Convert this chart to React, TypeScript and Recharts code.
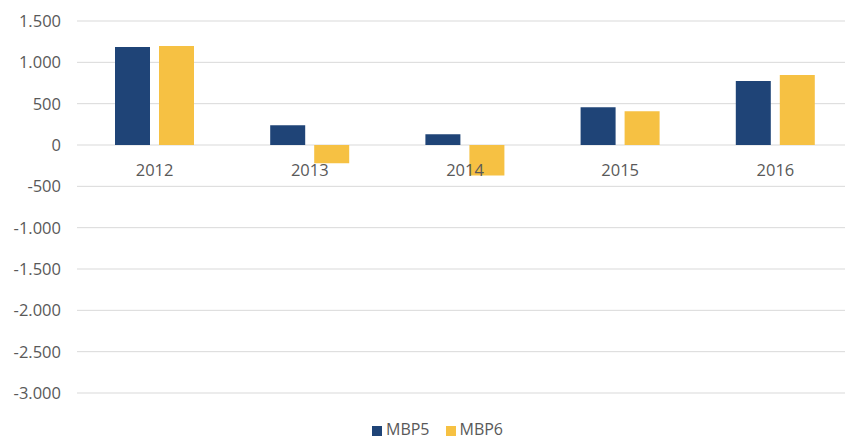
import React from 'react';
import { BarChart, Bar, XAxis, YAxis, CartesianGrid, Legend, ReferenceDot } from 'recharts';

const categories = ['2012', '2013', '2014', '2015', '2016'];
const mbp5 = [1185, 240, 130, 457, 773];
const mbp6 = [1198, -222, -368, 409, 846];
const yTicks = [-3000, -2500, -2000, -1500, -1000, -500, 0, 500, 1000, 1500];

const data = categories.map((c, i) => ({ year: c, MBP5: mbp5[i], MBP6: mbp6[i] }));

const fmt = (v: number) => {
  const s = Math.abs(v).toString().replace(/\B(?=(\d{3})+(?!\d))/g, '.');
  return (v < 0 ? '-' : '') + s;
};

const FONT = '"Open Sans", "Noto Sans", sans-serif';

export default function App() {
  return (
    <div style={{ position: 'absolute', left: 0, top: 0, width: 845, height: 439, overflow: 'hidden', background: '#fff' }}>
      <BarChart width={860} height={439} data={data} margin={{ top: 21, right: 7, left: 0, bottom: 24 }} barGap={9} barSize={35}>
        <CartesianGrid vertical={false} stroke="#d9d9d9" />
        <XAxis dataKey="year" hide />
        <YAxis
          width={77}
          domain={[-3000, 1500]}
          ticks={yTicks}
          tickFormatter={fmt}
          axisLine={false}
          tickLine={false}
          tickSize={0}
          tickMargin={16}
          interval={0}
          tick={{ fill: '#595959', fontSize: 16.5, fontFamily: FONT }}
        />
        <Bar dataKey="MBP5" fill="#1F4477" isAnimationActive={false} />
        <Bar dataKey="MBP6" fill="#F6C143" isAnimationActive={false} />
        {categories.map((c) => (
          <ReferenceDot
            key={c}
            x={c}
            y={0}
            r={1}
            fill="none"
            stroke="none"
            label={{ value: c, position: 'bottom', offset: 18, fill: '#595959', fontSize: 16.5, fontFamily: FONT }}
          />
        ))}
        <Legend
          verticalAlign="bottom"
          iconType="square"
          iconSize={10}
          wrapperStyle={{ bottom: -1, left: 372, width: 'auto', fontSize: 16, fontFamily: FONT, color: '#595959' }}
          formatter={(v: string) => <span style={{ color: '#595959', marginRight: 6 }}>{v}</span>}
        />
      </BarChart>
    </div>
  );
}
